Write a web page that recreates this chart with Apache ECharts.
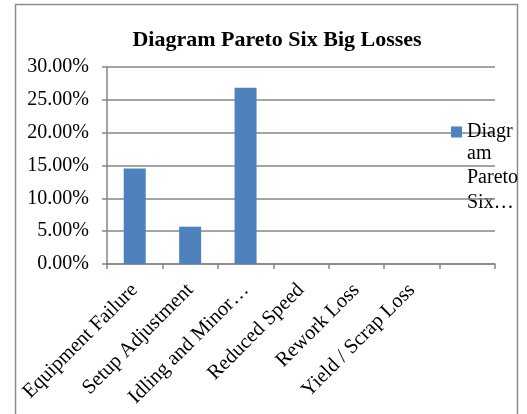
<!DOCTYPE html>
<html><head><meta charset="utf-8">
<script src="https://cdn.jsdelivr.net/npm/echarts@6/dist/echarts.min.js"></script>
<style>html,body{margin:0;padding:0;background:#fff}#c{width:527px;height:414px}</style>
</head><body><div id="c"></div>
<script>
const categories = ['Equipment Failure','Setup Adjustment','Idling and Minor Stoppages','Reduced Speed','Rework Loss','Yield / Scrap Loss',''];
const categoryLabels = ['Equipment Failure','Setup Adjustment','Idling and Minor\u2026','Reduced Speed','Rework Loss','Yield / Scrap Loss',''];
const seriesName = 'Diagram Pareto Six Big Losses';
const legendLines = ['Diagr','am','Pareto','Six\u2026'];
const values = [14.55, 5.68, 26.85, null, null, null, null];
const yTicks = [0, 5, 10, 15, 20, 25, 30];

const font = '"Liberation Serif", "Times New Roman", serif';
const chart = echarts.init(document.getElementById('c'));
chart.setOption({
  animation: false,
  textStyle: {fontFamily: font},
  title: {text: seriesName, left: 272, top: 24, textAlign: 'center',
    textStyle: {fontFamily: font, fontWeight: 'bold', fontSize: 22, color: '#000'}},
  graphic: [
    {type: 'rect', shape: {x: 15.5, y: 4.5, width: 502, height: 420},
      style: {fill: 'none', stroke: '#8c8c8c', lineWidth: 1.5}, silent: true},
    {type: 'text', left: 467, top: 141,
      style: {text: legendLines.slice(1).join('\n'), font: '20px ' + font, fill: '#000', lineHeight: 24.5}}
  ],
  legend: {left: 451, top: 122, padding: 0, icon: 'rect', itemWidth: 11, itemHeight: 11, itemGap: 5,
    formatter: () => legendLines[0],
    textStyle: {fontFamily: font, fontSize: 20, color: '#000'}},
  grid: {left: 107, right: 32, top: 67, bottom: 150},
  xAxis: {type: 'category', data: categoryLabels,
    axisLine: {lineStyle: {color: '#868686', width: 1.5}},
    axisTick: {show: true, length: 5, lineStyle: {color: '#868686', width: 1.5}},
    axisLabel: {rotate: 45, interval: 0, fontFamily: font, fontSize: 20.5, color: '#000', margin: 23}},
  yAxis: {type: 'value', min: yTicks[0], max: yTicks[yTicks.length - 1], interval: 5,
    axisLine: {show: true, lineStyle: {color: '#868686', width: 1.5}},
    axisTick: {show: true, length: 5, lineStyle: {color: '#868686', width: 1.5}},
    splitLine: {lineStyle: {color: '#868686', width: 1.5}},
    axisLabel: {fontFamily: font, fontSize: 20, color: '#000', margin: 18,
      formatter: v => v.toFixed(2) + '%'}},
  series: [{name: seriesName, type: 'bar', data: values, barWidth: 22,
    itemStyle: {color: '#4f81bd'}}]
});
</script></body></html>
